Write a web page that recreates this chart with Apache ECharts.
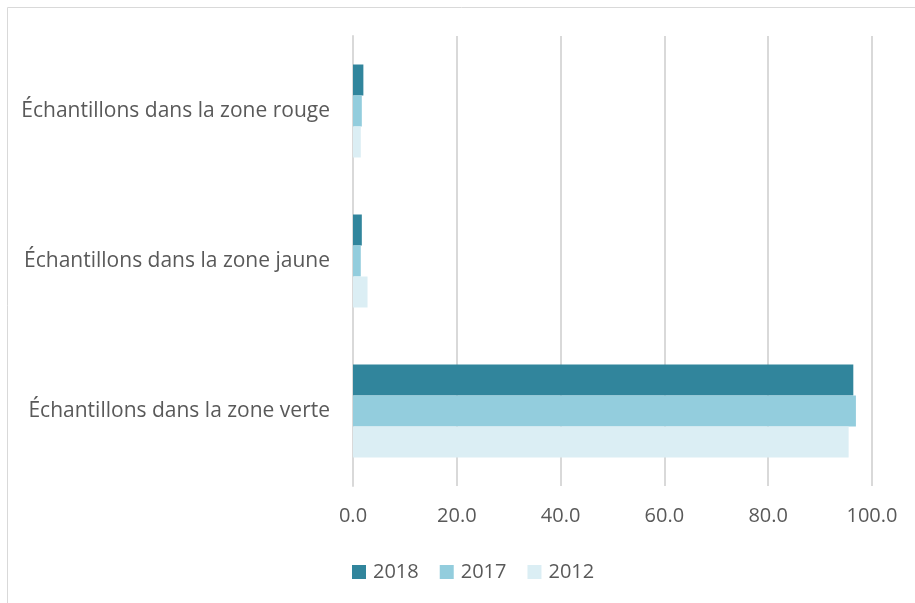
<!DOCTYPE html>
<html><head><meta charset="utf-8">
<script src="https://cdn.jsdelivr.net/npm/echarts@6/dist/echarts.min.js"></script>
<style>html,body{margin:0;padding:0;background:#fff}#c{width:915px;height:603px}</style>
</head><body><div id="c"></div>
<script>
const categories = ["Échantillons dans la zone rouge", "Échantillons dans la zone jaune", "Échantillons dans la zone verte"];
const seriesNames = ["2018", "2017", "2012"];
const values2018 = [2.0, 1.7, 96.4];
const values2017 = [1.7, 1.5, 96.9];
const values2012 = [1.5, 2.8, 95.5];
const xTicks = [0, 20, 40, 60, 80, 100];

const colors = ["#31859C", "#93CDDD", "#DBEEF4"];
const font = "Open Sans";
const chart = echarts.init(document.getElementById('c'), null, {renderer: 'canvas'});
chart.setOption({
  animation: false,
  color: colors,
  graphic: [{type: 'rect', shape: {x: 7.5, y: 7.5, width: 1000, height: 1000}, style: {fill: 'none', stroke: '#d9d9d9', lineWidth: 1}}],
  grid: {left: 353, right: 43, top: 36, bottom: 117, containLabel: false},
  legend: {
    data: seriesNames, left: 352, top: 562, padding: 0, itemWidth: 14, itemHeight: 14, itemGap: 21,
    icon: 'rect', textStyle: {fontFamily: font, fontSize: 20, color: '#595959', padding: [0, 0, 0, 2]}
  },
  xAxis: {
    type: 'value', min: xTicks[0], max: xTicks[xTicks.length - 1], interval: 20,
    axisLabel: {formatter: v => v.toFixed(1), fontFamily: font, fontSize: 20, color: '#595959', margin: 20},
    axisLine: {show: false}, axisTick: {show: false},
    splitLine: {lineStyle: {color: '#d9d9d9', width: 2}}
  },
  yAxis: {
    type: 'category', data: categories, inverse: true,
    axisLabel: {fontFamily: font, fontSize: 21, color: '#595959', margin: 23},
    axisLine: {show: true, lineStyle: {color: '#d9d9d9', width: 2}}, axisTick: {show: false}
  },
  series: [
    {name: seriesNames[0], type: 'bar', data: values2018, barGap: '0%', barCategoryGap: '38%'},
    {name: seriesNames[1], type: 'bar', data: values2017, barGap: '0%', barCategoryGap: '38%'},
    {name: seriesNames[2], type: 'bar', data: values2012, barGap: '0%', barCategoryGap: '38%'}
  ]
});
</script></body></html>
